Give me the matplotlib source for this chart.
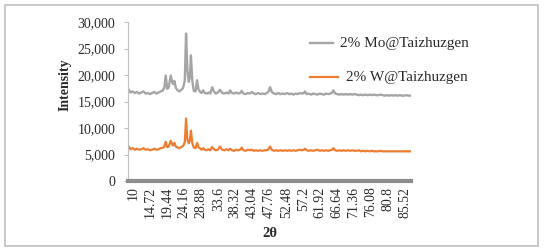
import matplotlib
matplotlib.use('Agg')
import matplotlib.pyplot as plt
from matplotlib.lines import Line2D
from matplotlib.patches import Rectangle
from matplotlib.ticker import FuncFormatter

plt.rcParams['font.family'] = ['Liberation Serif', 'DejaVu Serif']

# 2θ positions (deg) and intensities
two_theta = [8.5, 9.2, 9.8, 10.4, 11.0, 11.6, 12.2, 12.8, 13.4, 14.0, 14.6, 15.2, 15.8, 16.4,
             17.0, 17.6, 18.2, 18.6, 19.0, 19.4, 19.8, 20.4, 20.8, 21.1, 21.4, 21.8, 22.3, 22.8,
             23.3, 23.8, 24.3, 24.65, 25.0, 25.4, 25.7, 26.0, 26.4, 26.8, 27.3, 27.7, 28.1, 28.6,
             29.0, 29.4, 29.9, 30.4, 30.9, 31.4, 31.9, 32.4, 32.9, 33.5, 34.1, 34.7, 35.3, 35.9,
             36.5, 36.9, 37.4, 38.0, 38.6, 39.2, 39.7, 40.1, 40.6, 41.2, 41.8, 42.4, 42.9, 43.5,
             44.1, 44.7, 45.3, 45.9, 46.5, 47.1, 47.6, 48.0, 48.5, 49.1, 49.7, 50.3, 50.9, 51.5,
             52.1, 52.7, 53.3, 53.9, 54.5, 55.1, 55.7, 56.3, 56.9, 57.4, 57.7, 58.2, 58.8, 59.4,
             60.0, 60.6, 61.2, 61.8, 62.4, 63.0, 63.6, 64.2, 64.8, 65.3, 65.6, 66.1, 66.7, 67.3,
             67.9, 68.5, 69.1, 69.7, 70.3, 70.9, 71.5, 72.1, 72.7, 73.3, 73.9, 74.5, 75.1, 75.7,
             76.3, 76.9, 77.5, 78.1, 78.7, 79.3, 79.9, 80.5, 81.1, 81.7, 82.3, 82.9, 83.5, 84.1,
             84.7, 85.3, 85.9, 86.5, 87.2]

mo = [17400, 16700, 16900, 16600, 16800, 16500, 16700, 16900, 16500, 16600, 16400, 16600, 16800, 16500,
      16700, 16900, 17100, 17600, 19900, 17400, 17600, 19900, 18600, 18300, 18900, 17600, 17100, 16900,
      17200, 17500, 19000, 27800, 21000, 18700, 19500, 23700, 18800, 17000, 16900, 19000, 17300, 16800,
      16600, 17100, 16600, 16500, 16700, 16500, 17700, 16900, 16500, 16700, 17200, 16600, 16500, 16700,
      16500, 17100, 16600, 16500, 16700, 16500, 16600, 17000, 16500, 16400, 16600, 16500, 16800, 16500,
      16400, 16600, 16400, 16500, 16400, 16600, 16900, 17700, 16800, 16500, 16400, 16600, 16400, 16500,
      16400, 16600, 16400, 16500, 16300, 16500, 16400, 16600, 16500, 16600, 16900, 16400, 16500, 16300,
      16500, 16400, 16300, 16500, 16400, 16300, 16500, 16400, 16500, 16700, 17100, 16500, 16400, 16300,
      16400, 16300, 16400, 16300, 16400, 16300, 16400, 16300, 16200, 16300, 16200, 16300, 16200, 16300,
      16200, 16300, 16200, 16200, 16300, 16200, 16100, 16200, 16100, 16200, 16100, 16200, 16100, 16200,
      16100, 16100, 16200, 16100, 16100]

w = [6700, 6000, 6200, 5900, 6100, 5900, 6000, 6200, 5900, 6000, 5800, 5900, 6100, 5900,
     6000, 6200, 6300, 6500, 7400, 6400, 6500, 7600, 6900, 6700, 7200, 6500, 6300, 6200,
     6400, 6600, 7300, 11800, 7900, 7100, 7600, 9500, 7100, 6300, 6200, 7200, 6400, 6100,
     5900, 6200, 5900, 5800, 6000, 5800, 6400, 6000, 5800, 5900, 6500, 5900, 5800, 6000,
     5800, 6100, 5800, 5700, 5900, 5800, 5900, 6300, 5800, 5700, 5900, 5800, 5900, 5700,
     5800, 5700, 5800, 5700, 5800, 5800, 6000, 6500, 5900, 5700, 5800, 5700, 5800, 5700,
     5800, 5700, 5800, 5700, 5800, 5700, 5800, 5900, 5800, 5900, 6100, 5800, 5700, 5800,
     5700, 5800, 5900, 5700, 5800, 5700, 5800, 5700, 5800, 5900, 6200, 5800, 5700, 5800,
     5700, 5800, 5700, 5800, 5700, 5800, 5700, 5700, 5800, 5600, 5700, 5600, 5700, 5600,
     5700, 5600, 5600, 5600, 5700, 5600, 5600, 5600, 5600, 5600, 5600, 5600, 5600, 5600,
     5600, 5600, 5600, 5600, 5600]

x_labels = ['10', '14.72', '19.44', '24.16', '28.88', '33.6', '38.32', '43.04', '47.76',
            '52.48', '57.2', '61.92', '66.64', '71.36', '76.08', '80.8', '85.52']
y_ticks = [0, 5000, 10000, 15000, 20000, 25000, 30000]

GRAY = '#a5a5a5'
ORANGE = '#ed7d31'
TXT = '#2b2b2b'

fig = plt.figure(figsize=(5.5, 2.52), dpi=100)
fig.patches.append(Rectangle((0.009, 0.024), 0.969, 0.956, transform=fig.transFigure,
                             fill=False, edgecolor='#bfbfbf', linewidth=1.2))

ax = fig.add_axes([0.2327, 0.2817, 0.5146, 0.631])
ax.plot(two_theta, mo, color=GRAY, lw=1.7)
ax.plot(two_theta, w, color=ORANGE, lw=1.6)

ax.set_xlim(8.5, 87.2)
ax.set_ylim(0, 30000)
ax.set_xticks([float(s) for s in x_labels])
ax.set_xticklabels(x_labels, rotation=90, fontsize=10, color=TXT)
ax.set_yticks(y_ticks)
ax.yaxis.set_major_formatter(FuncFormatter(lambda v, p: f'{v:,.0f}'))
ax.tick_params(axis='y', length=3, width=0.8, color='#bfbfbf', pad=6, labelsize=10, labelcolor=TXT)
ax.tick_params(axis='x', length=0, pad=4)

for s in ['top', 'right']:
    ax.spines[s].set_visible(False)
ax.spines['left'].set_color('#bfbfbf')
ax.spines['left'].set_linewidth(0.8)
ax.spines['bottom'].set_color('#8c8c8c')
ax.spines['bottom'].set_linewidth(3)

fig.text(0.118, 0.663, 'Intensity', rotation=90, ha='center', va='center',
         fontsize=10, fontweight='bold', color=TXT)
fig.text(0.491, 0.075, '2θ', ha='center', va='center', fontsize=10.5, fontweight='bold', color=TXT)

# legend drawn by hand to keep the original spacing
W, H = 550, 252
fig.lines.append(Line2D([310 / W, 333 / W], [1 - 43 / H, 1 - 43 / H], transform=fig.transFigure,
                        color=GRAY, lw=1.7))
fig.text(340 / W, 1 - 43 / H, '2% Mo@Taizhuzgen', ha='left', va='center', fontsize=11, color=TXT)
fig.lines.append(Line2D([310 / W, 338 / W], [1 - 77 / H, 1 - 77 / H], transform=fig.transFigure,
                        color=ORANGE, lw=1.6))
fig.text(346 / W, 1 - 77 / H, '2% W@Taizhuzgen', ha='left', va='center', fontsize=11, color=TXT)

fig.savefig('out.png', dpi=100, facecolor='white')
